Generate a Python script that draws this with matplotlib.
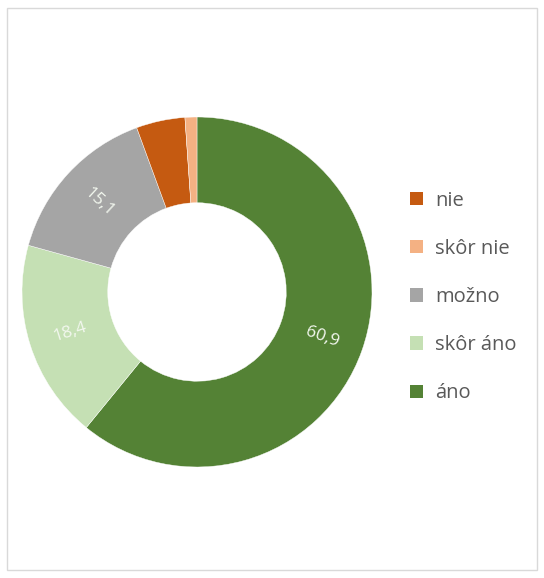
import matplotlib.pyplot as plt
from matplotlib.patches import Rectangle, Patch
import numpy as np

plt.rcParams['font.family'] = ['Open Sans', 'DejaVu Sans']

# datos (en orden de las agujas del reloj desde arriba)
categorias = ['áno', 'skôr áno', 'možno', 'nie', 'skôr nie']
valores = [60.9, 18.4, 15.1, 4.5, 1.1]
colores = ['#548235', '#C5E0B4', '#A5A5A5', '#C55A11', '#F4B183']
etiquetas = ['60,9', '18,4', '15,1', '', '']
orden_leyenda = ['nie', 'skôr nie', 'možno', 'skôr áno', 'áno']

fig = plt.figure(figsize=(5.44, 5.78), dpi=100)
fig.patches.append(Rectangle((7/544, 8/578), 530/544, 562/578, transform=fig.transFigure,
                             facecolor='none', edgecolor='#D9D9D9', linewidth=1, zorder=-1))

ax = fig.add_axes([22/544, (578-292-175)/578, 350/544, 350/578])
cuñas, _ = ax.pie(valores, colors=colores, startangle=90, counterclock=False, radius=1,
                  wedgeprops=dict(width=0.49, edgecolor='white', linewidth=0.3))
ax.set_xlim(-1, 1)
ax.set_ylim(-1, 1)
ax.set_aspect('equal')

# etiquetas radiales
for w, t in zip(cuñas, etiquetas):
    if not t:
        continue
    ang = (w.theta1 + w.theta2) / 2
    r = 0.76
    x = r * np.cos(np.radians(ang))
    y = r * np.sin(np.radians(ang))
    rot = ang
    if 90 < (ang % 360) < 270:
        rot = ang - 180
    ax.text(x, y, t, ha='center', va='center', rotation=rot, rotation_mode='anchor',
            color='#F2F7EE', fontsize=12.5)

colmap = dict(zip(categorias, colores))
handles = [Patch(facecolor=colmap[c], edgecolor='none') for c in orden_leyenda]
fig.legend(handles, orden_leyenda, loc='center left', bbox_to_anchor=(392/544, 1-297/578),
           frameon=False, fontsize=14.5, handlelength=0.65, handleheight=0.65,
           labelspacing=1.4, handletextpad=0.6, labelcolor='#595959')

fig.savefig('out.png', dpi=100)
